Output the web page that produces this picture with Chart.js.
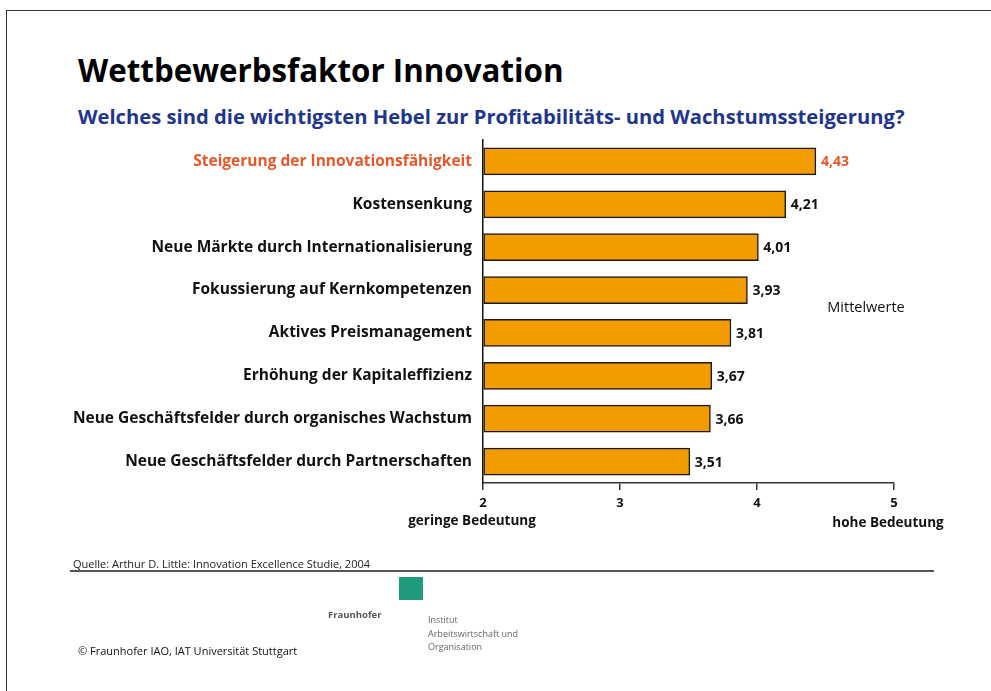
<!DOCTYPE html>
<html>
<head>
<meta charset="utf-8">
<script src="https://cdn.jsdelivr.net/npm/chart.js@4/dist/chart.umd.min.js"></script>
<style>
  html, body { margin: 0; padding: 0; background: #fff; }
  body { width: 991px; height: 691px; position: relative; overflow: hidden; font-family: "Open Sans", sans-serif; }
  .frame { position: absolute; left: 6px; top: 10px; right: -2px; bottom: -2px; border-left: 1.5px solid #333; border-top: 1.5px solid #333; }
  #wrap { position: absolute; left: 0; top: 0; width: 991px; height: 691px; }
  .txt { position: absolute; white-space: nowrap; }
  h1 { position: absolute; left: 78px; top: 49px; margin: 0; font-size: 31.3px; font-weight: 700; color: #000; }
  h2 { position: absolute; left: 78px; top: 102px; margin: 0; font-size: 20.2px; font-weight: 700; color: #22358c; }
  .src { left: 73px; top: 556px; font-size: 11px; color: #222; }
  .rule { position: absolute; left: 70px; top: 570px; width: 864px; height: 2px; background: #555; }
  .copy { left: 78px; top: 643px; font-size: 11px; color: #111; }
  .logo { position: absolute; left: 399px; top: 577px; width: 24px; height: 23px; background: #1e9b7d; }
  .fh { left: 328px; top: 608px; font-size: 9.5px; font-weight: 700; color: #555; }
  .inst { left: 428px; top: 613px; font-size: 9px; line-height: 13.5px; color: #666; }
</style>
</head>
<body>
<div class="frame"></div>
<h1>Wettbewerbsfaktor Innovation</h1>
<h2>Welches sind die wichtigsten Hebel zur Profitabilitäts- und Wachstumssteigerung?</h2>
<div id="wrap"><canvas id="chart" width="991" height="691"></canvas></div>
<div class="txt src">Quelle: Arthur D. Little: Innovation Excellence Studie, 2004</div>
<div class="rule"></div>
<div class="logo"></div>
<div class="txt fh">Fraunhofer</div>
<div class="txt inst">Institut<br>Arbeitswirtschaft und<br>Organisation</div>
<div class="txt copy">© Fraunhofer IAO, IAT Universität Stuttgart</div>
<script>
  'use strict'

  // Hebel (Kategorien) und Mittelwerte
  const categories = [
    'Steigerung der Innovationsfähigkeit',
    'Kostensenkung',
    'Neue Märkte durch Internationalisierung',
    'Fokussierung auf Kernkompetenzen',
    'Aktives Preismanagement',
    'Erhöhung der Kapitaleffizienz',
    'Neue Geschäftsfelder durch organisches Wachstum',
    'Neue Geschäftsfelder durch Partnerschaften'
  ];
  const meanValues = [4.43, 4.21, 4.01, 3.93, 3.81, 3.67, 3.66, 3.51];
  const valueLabels = ['4,43', '4,21', '4,01', '3,93', '3,81', '3,67', '3,66', '3,51'];
  const scaleTicks = [2, 3, 4, 5];
  const scaleEnds = ['geringe Bedeutung', 'hohe Bedeutung'];
  const unitNote = 'Mittelwerte';

  const highlight = '#e8572a';
  const fontFamily = '"Open Sans", sans-serif';

  // Werte rechts neben die Balken schreiben, plus Skalenbeschriftung
  const labelPlugin = {
    id: 'labels',
    afterDatasetsDraw(chart) {
      const ctx = chart.ctx;
      const meta = chart.getDatasetMeta(0);
      const x = chart.scales.x;
      ctx.save();
      ctx.font = 'bold 14px ' + fontFamily;
      ctx.textBaseline = 'middle';
      ctx.textAlign = 'left';
      meta.data.forEach((bar, i) => {
        ctx.fillStyle = i === 0 ? highlight : '#111';
        ctx.fillText(valueLabels[i], bar.x + 5, bar.y + 1);
      });
      ctx.textAlign = 'center';
      ctx.fillStyle = '#111';
      ctx.font = 'bold 13.5px ' + fontFamily;
      ctx.fillText(scaleEnds[0], x.getPixelForValue(2) - 11, 521);
      ctx.fillText(scaleEnds[1], x.getPixelForValue(5) - 6, 523);
      ctx.font = '14.5px ' + fontFamily;
      ctx.fillText(unitNote, 866, 308);
      ctx.restore();
    }
  };

  new Chart(document.getElementById('chart'), {
    type: 'bar',
    data: {
      labels: categories,
      datasets: [{
        data: meanValues,
        base: 2,
        backgroundColor: '#f39c00',
        borderColor: '#1a1a1a',
        borderWidth: 1.5,
        borderSkipped: false,
        barThickness: 27
      }]
    },
    options: {
      indexAxis: 'y',
      responsive: false,
      animation: false,
      layout: { padding: { top: 140, right: 97, left: 0, bottom: 0 } },
      plugins: {
        legend: { display: false },
        tooltip: { enabled: false }
      },
      scales: {
        x: {
          min: 2,
          max: 5,
          afterBuildTicks: (s) => { s.ticks = scaleTicks.map(v => ({ value: v })); },
          afterFit: (s) => { s.height = 208; },
          grid: { drawOnChartArea: false, drawTicks: true, tickLength: 7, color: '#333', lineWidth: 1.5 },
          border: { display: true, color: '#333', width: 1.5 },
          ticks: {
            padding: 5,
            color: '#111',
            font: { family: fontFamily, size: 13, weight: 'bold' }
          }
        },
        y: {
          afterFit: (s) => { s.width = 483; },
          grid: { display: false },
          border: { display: true, color: '#111', width: 1.5 },
          ticks: {
            padding: 3,
            color: (c) => c.index === 0 ? highlight : '#111',
            font: { family: fontFamily, size: 15.5, weight: 'bold' }
          }
        }
      }
    },
    plugins: [labelPlugin]
  });
</script>
</body>
</html>
